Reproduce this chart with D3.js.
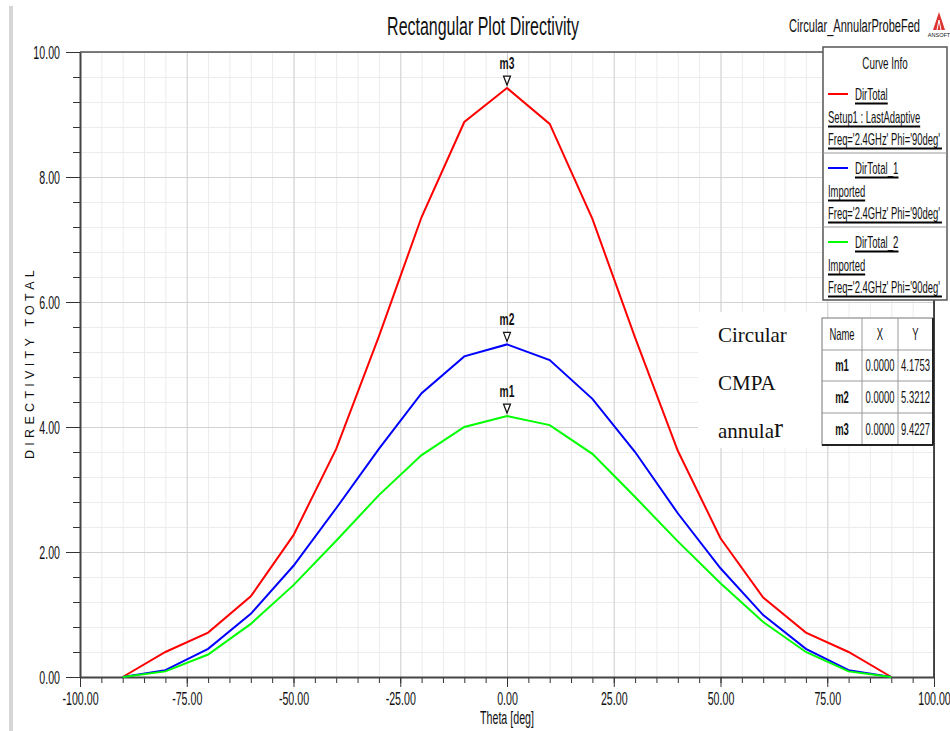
<!DOCTYPE html>
<html>
<head>
<meta charset="utf-8">
<script src="https://cdn.jsdelivr.net/npm/d3@7"></script>
<style>
  body { margin: 0; background: #fff; }
  text { font-family: 'Liberation Sans', Arial, sans-serif; fill: #111; }
  .serif { font-family: 'Liberation Serif', 'Times New Roman', serif; }
</style>
</head>
<body>
<div id="chart"></div>
<script>
// chart values
var theta = [-90, -80, -70, -60, -50, -40, -30, -20, -10, 0, 10, 20, 30, 40, 50, 60, 70, 80, 90];
var dirTotal   = [0, 0.40, 0.71, 1.29, 2.27, 3.65, 5.45, 7.36, 8.88, 9.4227, 8.85, 7.33, 5.43, 3.62, 2.22, 1.27, 0.71, 0.40, 0];
var dirTotal1  = [0, 0.11, 0.45, 1.01, 1.78, 2.70, 3.65, 4.54, 5.13, 5.3212, 5.07, 4.45, 3.60, 2.62, 1.74, 0.99, 0.45, 0.11, 0];
var dirTotal2  = [0, 0.09, 0.36, 0.85, 1.47, 2.18, 2.91, 3.55, 4.00, 4.1753, 4.03, 3.57, 2.88, 2.17, 1.50, 0.88, 0.40, 0.09, 0];

var seriesNames = ["DirTotal", "DirTotal_1", "DirTotal_2"];
var seriesSource = ["Setup1 : LastAdaptive", "Imported", "Imported"];
var seriesFreq = "Freq='2.4GHz' Phi='90deg'";
var seriesColors = ["#ff0000", "#0000ff", "#00ff00"];

var markerNames = ["m1", "m2", "m3"];
var markerX = [0, 0, 0];
var markerY = [4.1753, 5.3212, 9.4227];

var xTicks = [-100, -75, -50, -25, 0, 25, 50, 75, 100];
var yTicks = [0, 2, 4, 6, 8, 10];
var notes = ["Circular", "CMPA", "annula"];

// text in the picture is drawn narrow and tall
var SX = 0.82, K = 1.36;

var margin = {top: 52, right: 16, bottom: 54, left: 80},
  width = 950 - margin.left - margin.right,
  height = 731 - margin.top - margin.bottom;

var x = d3.scaleLinear().domain([-100, 100]).range([0, width]);
var y = d3.scaleLinear().domain([0, 10]).range([height, 0]);

var fmt = function(d) { return d3.format(".2f")(d).replace("\u2212", "-"); };

var svg = d3.select("#chart").append("svg")
  .attr("width", 950)
  .attr("height", 731);

// helper for stretched text
function label(parent, px, py, str, size, anchor, ky) {
  return parent.append("text")
    .attr("transform", "translate(" + px + "," + py + ") scale(" + SX + "," + (ky || K) + ")")
    .attr("dy", "0.35em")
    .attr("text-anchor", anchor || "middle")
    .style("font-size", size + "px")
    .text(str);
}

// grey strip at the left edge
svg.append("rect").attr("x", 9).attr("y", 6).attr("width", 4).attr("height", 725).attr("fill", "#d6d6d6");

var g = svg.append("g")
  .attr("transform", "translate(" + margin.left + "," + margin.top + ")");

// minor grid
g.append("g")
  .attr("transform", "translate(0," + height + ")")
  .call(d3.axisBottom(x).tickValues(d3.range(-100, 101, 5)).tickSize(-height).tickFormat(""))
  .call(function(s) { s.select(".domain").remove(); s.selectAll("line").attr("stroke", "#ececec"); });
g.append("g")
  .call(d3.axisLeft(y).tickValues(d3.range(0, 10.01, 0.4)).tickSize(-width).tickFormat(""))
  .call(function(s) { s.select(".domain").remove(); s.selectAll("line").attr("stroke", "#ececec"); });

// major grid
g.append("g")
  .attr("transform", "translate(0," + height + ")")
  .call(d3.axisBottom(x).tickValues(xTicks).tickSize(-height).tickFormat(""))
  .call(function(s) { s.select(".domain").remove(); s.selectAll("line").attr("stroke", "#d2d2d2"); });
g.append("g")
  .call(d3.axisLeft(y).tickValues(yTicks).tickSize(-width).tickFormat(""))
  .call(function(s) { s.select(".domain").remove(); s.selectAll("line").attr("stroke", "#d2d2d2"); });

// frame
g.append("line").attr("x1", 0).attr("x2", width).attr("y1", 0).attr("y2", 0).attr("stroke", "#555").attr("stroke-width", 1.5);
g.append("line").attr("x1", width).attr("x2", width).attr("y1", 0).attr("y2", height).attr("stroke", "#111").attr("stroke-width", 1.5);

// minor ticks
g.append("g")
  .attr("transform", "translate(0," + height + ")")
  .call(d3.axisBottom(x).tickValues(d3.range(-100, 101, 5)).tickSize(6).tickFormat(""))
  .call(function(s) { s.select(".domain").remove(); s.selectAll("line").attr("stroke", "#333"); });
g.append("g")
  .call(d3.axisLeft(y).tickValues(d3.range(0, 10.01, 0.4)).tickSize(7).tickFormat(""))
  .call(function(s) { s.select(".domain").remove(); s.selectAll("line").attr("stroke", "#333"); });

// major axes
var xAxis = g.append("g")
  .attr("transform", "translate(0," + height + ")")
  .call(d3.axisBottom(x).tickValues(xTicks).tickSize(10).tickSizeOuter(0).tickFormat(fmt));
xAxis.select(".domain").attr("stroke", "#444").attr("stroke-width", 2);
xAxis.selectAll("line").attr("stroke", "#333");
xAxis.selectAll("text")
  .attr("y", 0).attr("dy", "0.35em")
  .attr("transform", "translate(0,22) scale(" + SX + "," + K + ")")
  .style("font-size", "13px").attr("fill", "#111");

var yAxis = g.append("g")
  .call(d3.axisLeft(y).tickValues(yTicks).tickSize(14).tickSizeOuter(0).tickFormat(fmt));
yAxis.select(".domain").attr("stroke", "#444").attr("stroke-width", 2);
yAxis.selectAll("line").attr("stroke", "#333");
yAxis.selectAll("text")
  .attr("x", 0).attr("dy", "0.35em")
  .attr("transform", "translate(-20,0) scale(" + SX + "," + K + ")")
  .style("font-size", "13px").attr("fill", "#111");

// curves
var valueline = d3.line()
  .x(function(d) { return x(d.a); })
  .y(function(d) { return y(d.b); });

[dirTotal, dirTotal1, dirTotal2].forEach(function(vals, i) {
  var data = theta.map(function(t, j) { return {a: t, b: vals[j]}; });
  g.append("path")
    .attr("d", valueline(data))
    .attr("fill", "none")
    .attr("stroke", seriesColors[i])
    .attr("stroke-width", 2);
});

// markers
markerNames.forEach(function(m, i) {
  var mx = x(markerX[i]), my = y(markerY[i]);
  g.append("path")
    .attr("d", "M" + (mx - 3.5) + "," + (my - 12) + "L" + (mx + 3.5) + "," + (my - 12) + "L" + mx + "," + (my - 3) + "Z")
    .attr("fill", "#fff").attr("stroke", "#111").attr("stroke-width", 1.2);
  label(g, mx, my - 25, m, 12.5).style("font-weight", "bold");
});

// titles
label(svg, 483, 26, "Rectangular Plot Directivity", 19.5);
label(svg, 920, 26, "Circular_AnnularProbeFed", 13.5, "end");
label(svg, 507, 718, "Theta [deg]", 13);
svg.append("text")
  .attr("transform", "translate(30," + (margin.top + height / 2 - 2) + ") rotate(-90)")
  .attr("text-anchor", "middle")
  .attr("dy", "0.35em")
  .style("font-size", "12.5px")
  .style("letter-spacing", "4.3px")
  .text("DIRECTIVITY TOTAL");

// ansoft logo
var logo = svg.append("g").attr("transform", "translate(939,12)");
logo.append("path").attr("d", "M0,0L6,18L-6,18Z").attr("fill", "#d33");
logo.append("path").attr("d", "M-2,18L0,8L2,18").attr("fill", "none").attr("stroke", "#fff").attr("stroke-width", 1);
logo.append("text").attr("y", 25).attr("text-anchor", "middle").style("font-size", "5.5px").text("ANSOFT");

// curve info legend
var lx = 823, ly = 47, lw = 124, lh = 253;
var leg = svg.append("g");
leg.append("rect").attr("x", lx).attr("y", ly).attr("width", lw).attr("height", lh)
  .attr("fill", "#fff").attr("stroke", "#555").attr("stroke-width", 1.5);
label(leg, lx + lw / 2, ly + 16, "Curve Info", 12, "middle", 1.45);

function underline(t, extra) {
  var tr = t.attr("transform").match(/translate\(([^,]+),([^)]+)\)/);
  var tx = +tr[1], ty = +tr[2];
  var w = t.node().getComputedTextLength() * SX;
  var x0 = t.attr("text-anchor") === "start" ? tx : tx - w / 2;
  leg.append("line").attr("x1", x0).attr("x2", x0 + w + (extra || 0))
    .attr("y1", ty + 9.5).attr("y2", ty + 9.5).attr("stroke", "#000").attr("stroke-width", 2);
}

seriesNames.forEach(function(name, i) {
  var top = ly + 32 + i * 74;
  if (i > 0) {
    leg.append("line").attr("x1", lx).attr("x2", lx + lw).attr("y1", top).attr("y2", top)
      .attr("stroke", "#999").attr("stroke-width", 1);
  }
  leg.append("line").attr("x1", lx + 5).attr("x2", lx + 25).attr("y1", top + 15).attr("y2", top + 15)
    .attr("stroke", seriesColors[i]).attr("stroke-width", 2);
  underline(label(leg, lx + 32, top + 15, name, 11.8, "start", 1.45));
  underline(label(leg, lx + 5, top + 38, seriesSource[i], 11.5, "start", 1.45));
  underline(label(leg, lx + 5, top + 60, seriesFreq, 11.5, "start", 1.45), 2);
});

// note box
var note = svg.append("g");
note.append("rect").attr("x", 698).attr("y", 312).attr("width", 124).attr("height", 136).attr("fill", "#fff");
notes.forEach(function(n, i) {
  var t = note.append("text").attr("class", "serif")
    .attr("x", 718).attr("y", 342 + i * 48)
    .style("font-size", "21px")
    .text(n);
  if (i === 2) t.append("tspan").style("font-size", "27px").attr("dy", "-1").text("r");
});

// marker table
var tx0 = 822, colW = [40, 36, 35], rowY = [318, 350, 381, 413, 445];
var colX = [tx0, tx0 + colW[0], tx0 + colW[0] + colW[1], tx0 + colW[0] + colW[1] + colW[2]];
var tbl = svg.append("g");
tbl.append("rect").attr("x", tx0).attr("y", rowY[0]).attr("width", colX[3] - tx0).attr("height", rowY[4] - rowY[0])
  .attr("fill", "#fff").attr("stroke", "#777").attr("stroke-width", 1);
rowY.slice(1, 4).forEach(function(ry) {
  tbl.append("line").attr("x1", tx0).attr("x2", colX[3]).attr("y1", ry).attr("y2", ry).attr("stroke", "#999");
});
colX.slice(1, 3).forEach(function(cx) {
  tbl.append("line").attr("x1", cx).attr("x2", cx).attr("y1", rowY[0]).attr("y2", rowY[4]).attr("stroke", "#999");
});
tbl.append("line").attr("x1", tx0).attr("x2", colX[3]).attr("y1", rowY[4]).attr("y2", rowY[4]).attr("stroke", "#222").attr("stroke-width", 2);
tbl.append("line").attr("x1", colX[3]).attr("x2", colX[3]).attr("y1", rowY[0]).attr("y2", rowY[4]).attr("stroke", "#222").attr("stroke-width", 2);

var header = ["Name", "X", "Y"];
header.forEach(function(h, c) {
  label(tbl, (colX[c] + colX[c + 1]) / 2, (rowY[0] + rowY[1]) / 2, h, 11.5, "middle", 1.45);
});
markerNames.forEach(function(m, r) {
  var cy = (rowY[r + 1] + rowY[r + 2]) / 2;
  label(tbl, (colX[0] + colX[1]) / 2, cy, m, 11.5, "middle", 1.45).style("font-weight", "bold");
  label(tbl, (colX[1] + colX[2]) / 2, cy, markerX[r].toFixed(4), 11.5, "middle", 1.45);
  label(tbl, (colX[2] + colX[3]) / 2, cy, markerY[r].toFixed(4), 11.5, "middle", 1.45);
});
</script>
</body>
</html>
